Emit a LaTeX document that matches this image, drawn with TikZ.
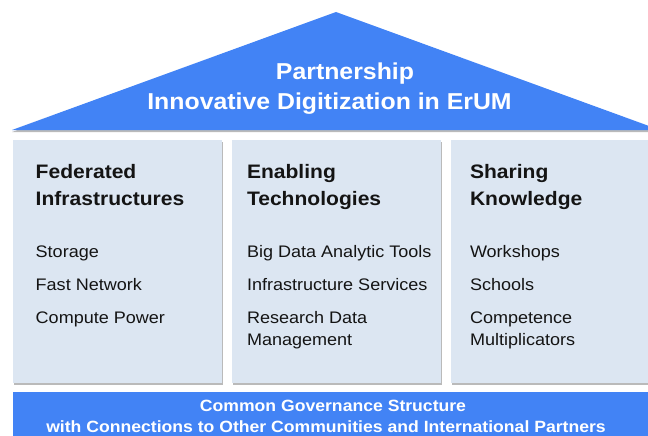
\documentclass[tikz,border=0pt]{standalone}
\usepackage{fontspec}
\setmainfont{Liberation Sans}[FakeStretch=1.08]
\usetikzlibrary{positioning,shadows}
\definecolor{roofblue}{RGB}{66,131,245}
\definecolor{pillarfill}{RGB}{220,230,242}
\definecolor{inktext}{RGB}{20,20,20}

\begin{document}
\begin{tikzpicture}[x=1pt,y=-1pt,inner sep=0pt,outer sep=0pt,
                    font=\fontsize{16.7}{22}\selectfont]

  \tikzstyle{pillar}=[fill=pillarfill,draw=none,anchor=north west,
                      minimum width=209pt,minimum height=243pt,
                      drop shadow={shadow xshift=1.2pt,shadow yshift=-2pt,
                                   fill=black!45,opacity=.6}]
  \tikzstyle{head}=[text=inktext,align=left,anchor=base west,
                    font=\bfseries\fontsize{19.5}{26.5}\selectfont]
  \tikzstyle{item}=[text=inktext,align=left,anchor=base west]
  \tikzstyle{roofline}=[text=white,anchor=base,
                        font=\bfseries\fontsize{23}{30}\selectfont]
  \tikzstyle{baseline}=[text=white,anchor=base,
                        font=\bfseries\fontsize{16.3}{21}\selectfont]

  \useasboundingbox (0,0) rectangle (648,436);
  \clip (0,0) rectangle (648,436);

  % roof
  \coordinate (eaveL) at (12,130);
  \coordinate (eaveR) at (660,130);
  \coordinate (ridge) at (336,12);
  \fill[roofblue,drop shadow={shadow xshift=0pt,shadow yshift=-2pt,
                              fill=black!45,opacity=.6}]
       (eaveL) -- (ridge) -- (eaveR) -- cycle;
  \node[roofline] (partner) at (345,79.3) {Partnership};
  \node[roofline] (digit)   at (329.5,110) {Innovative Digitization in ErUM};

  % pillars
  \node[pillar]                   (fed)  at (13,140) {};
  \node[pillar, right=10pt of fed]  (tech) {};
  \node[pillar, right=10pt of tech] (know) {};

  % headings (base = last line)
  \node[head] (fedhead)  at ([shift={(22.7,65)}]fed.north west)
        {Federated\\Infrastructures};
  \node[head] (techhead) at ([shift={(15,65)}]tech.north west)
        {Enabling\\Technologies};
  \node[head] (knowhead) at ([shift={(19,65)}]know.north west)
        {Sharing\\Knowledge};

  \foreach \txt/\dy [count=\i] in {Storage/0,Fast Network/0,Compute Power/0}
    \node[item] (fed-\i) at ([shift={(22.7,84+33*\i+\dy)}]fed.north west) {\txt};
  \foreach \txt/\dy [count=\i] in {Big Data Analytic Tools/0,
                                   Infrastructure Services/0,
                                   {Research Data\\Management}/22}
    \node[item] (tech-\i) at ([shift={(15,84+33*\i+\dy)}]tech.north west) {\txt};
  \foreach \txt/\dy [count=\i] in {Workshops/0,Schools/0,
                                   {Competence\\Multiplicators}/22}
    \node[item] (know-\i) at ([shift={(19,84+33*\i+\dy)}]know.north west) {\txt};

  % foundation
  \node[fill=roofblue,anchor=north west,minimum width=647pt,
        minimum height=50pt] (gov) at (13,392) {};
  \node[baseline] (govtop) at (333,411)   {Common Governance Structure};
  \node[baseline] (govbot) at (326,432.7)
        {with Connections to Other Communities and International Partners};
\end{tikzpicture}
\end{document}
